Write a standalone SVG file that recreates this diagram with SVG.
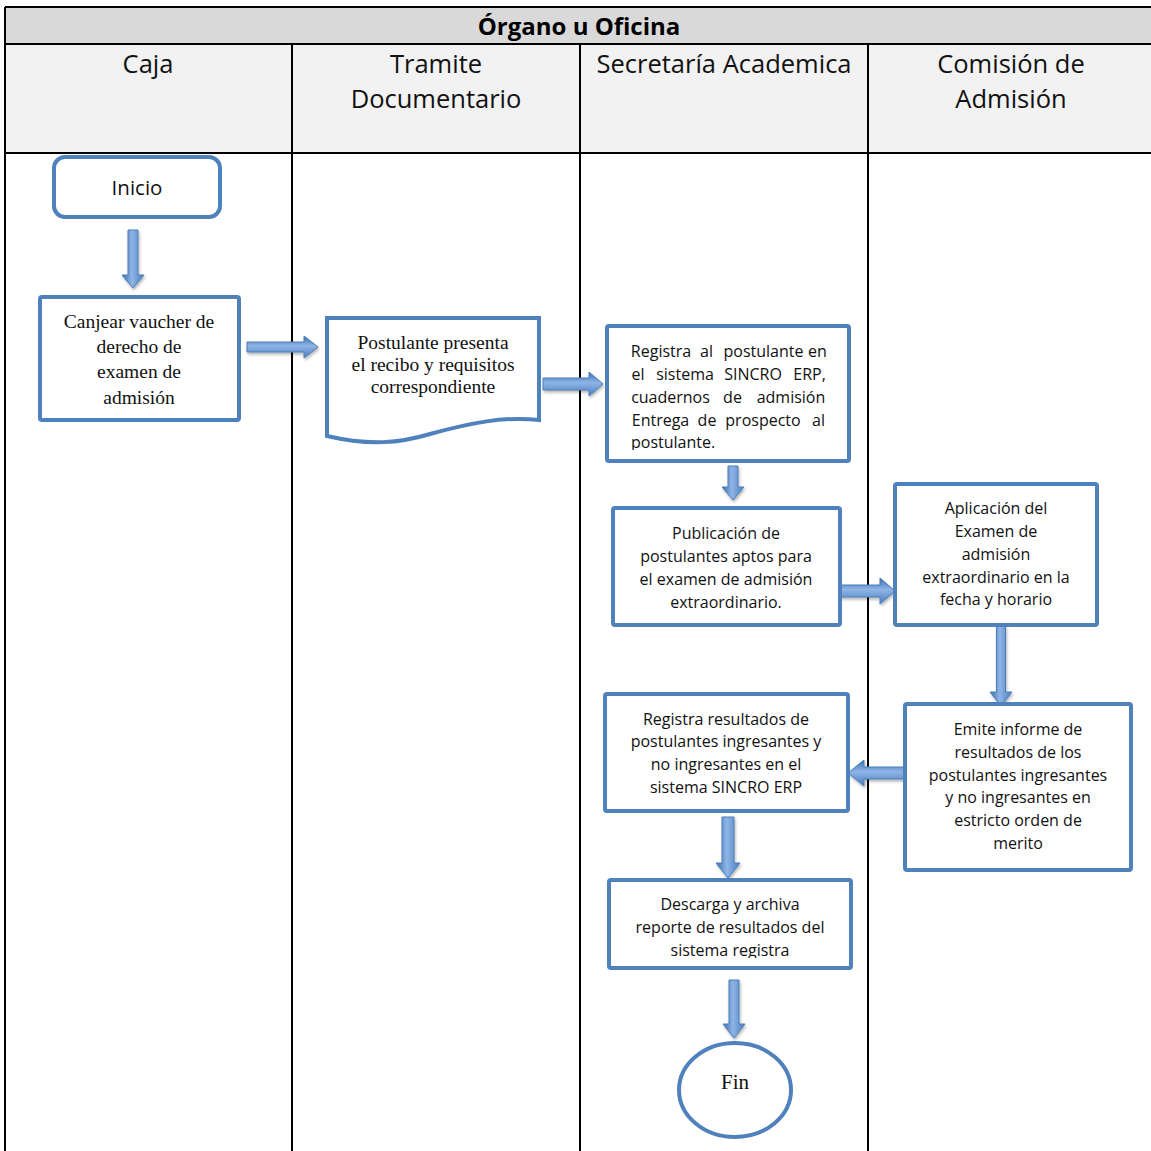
<svg xmlns="http://www.w3.org/2000/svg" width="1151" height="1151" viewBox="0 0 1151 1151">
<defs>
<style>
.grid{stroke:#000;stroke-width:2;fill:none}
.hdr{font-family:"Open Sans","Liberation Sans",sans-serif;font-size:25.5px;fill:#111;text-anchor:middle}
.ttl{font-family:"Open Sans","Liberation Sans",sans-serif;font-size:24px;font-weight:bold;fill:#000;text-anchor:middle}
.box{fill:#fff;stroke:#4f81bd;stroke-width:4}
.sans{font-family:"Open Sans","Liberation Sans",sans-serif;font-size:16px;fill:#111;text-anchor:middle}
.serif{font-family:"Liberation Serif","DejaVu Serif",serif;font-size:19.5px;fill:#111;text-anchor:middle}
.av{fill:url(#gv);stroke:#4a7ebb;stroke-width:1;filter:url(#sh)}
.ah{fill:url(#gh);stroke:#4a7ebb;stroke-width:1;filter:url(#sh)}
</style>
<linearGradient id="gv" x1="0" y1="0" x2="1" y2="0">
<stop offset="0" stop-color="#3a6eae"/>
<stop offset="0.45" stop-color="#8fb5e6"/>
<stop offset="1" stop-color="#4a7dbd"/>
</linearGradient>
<linearGradient id="gh" x1="0" y1="0" x2="0" y2="1">
<stop offset="0" stop-color="#3a6eae"/>
<stop offset="0.45" stop-color="#8fb5e6"/>
<stop offset="1" stop-color="#4a7dbd"/>
</linearGradient>
<filter id="sh" x="-30%" y="-30%" width="160%" height="160%">
<feDropShadow dx="1" dy="2" stdDeviation="1.5" flood-color="#000" flood-opacity="0.3"/>
</filter>
<clipPath id="clipReg"><rect x="610" y="329" width="236" height="121"/></clipPath>
<clipPath id="clipDes"><rect x="612" y="883" width="236" height="75"/></clipPath>
</defs>

<g id="table">
<rect x="5" y="7" width="1148" height="37" fill="#d9d9d9"/>
<rect x="5" y="44" width="1148" height="109" fill="#f2f2f2"/>
<path class="grid" d="M5,7 H1153 M5,44 H1153 M5,153 H1153 M5,7 V1151 M292,44 V1151 M580,44 V1151 M868,44 V1151"/>
<text class="ttl" x="579" y="35">Órgano u Oficina</text>
<text class="hdr" x="148" y="73">Caja</text>
<text class="hdr" x="436" y="73">Tramite</text>
<text class="hdr" x="436" y="108">Documentario</text>
<text class="hdr" x="724" y="73">Secretaría Academica</text>
<text class="hdr" x="1011" y="73">Comisión de</text>
<text class="hdr" x="1011" y="108">Admisión</text>
</g>

<g id="connectors">
<path class="av" d="M128,230 H138 V275 H144 L133,288 L122,275 H128 Z"/>
<path class="ah" d="M247,342 H304 V336 L318,347 L304,358 V352 H247 Z"/>
<path class="ah" d="M543,378 H589 V372 L603,384 L589,396 V390 H543 Z"/>
<path class="av" d="M728,466 H738 V487 H744 L733,500 L722,487 H728 Z"/>
<path class="ah" d="M840,585 H880 V578 L895,591 L880,604 V597 H840 Z"/>
<path class="av" d="M996.5,626 H1005.5 V692 H1012 L1001,706 L990,692 H996.5 Z"/>
<path class="ah" d="M905,767 H864 V760 L848,773 L864,786 V779 H905 Z"/>
<path class="av" d="M722,817 H734 V863 H740 L728,878 L716,863 H722 Z"/>
<path class="av" d="M729,980 H739 V1024 H745 L734,1038 L723,1024 H729 Z"/>
</g>

<g id="inicio">
<rect class="box" x="54" y="157" width="166" height="60" rx="11"/>
<text class="sans" x="137" y="195" style="font-size:20.5px">Inicio</text>
</g>

<g id="canjear">
<rect class="box" x="40" y="297" width="199" height="123" rx="2"/>
<text class="serif" x="139"><tspan x="139" y="328">Canjear vaucher de</tspan><tspan x="139" y="353">derecho de</tspan><tspan x="139" y="378">examen de</tspan><tspan x="139" y="404">admisión</tspan></text>
</g>

<g id="postulante">
<path class="box" d="M327,318 H539 V420 C505,416 470,423 430,434 C400,443 370,446 327,436 Z"/>
<text class="serif" x="433" style="font-size:19.5px"><tspan x="433" y="349">Postulante presenta</tspan><tspan x="433" y="371">el recibo y requisitos</tspan><tspan x="433" y="393">correspondiente</tspan></text>
</g>

<g id="registra">
<rect class="box" x="607" y="326" width="242" height="135" rx="2"/>
<g clip-path="url(#clipReg)">
<text class="sans"><tspan x="661" y="357">Registra</tspan><tspan x="706.5" y="357">al</tspan><tspan x="763.5" y="357">postulante</tspan><tspan x="817.5" y="357">en</tspan></text>
<text class="sans"><tspan x="638" y="380">el</tspan><tspan x="685" y="380">sistema</tspan><tspan x="753" y="380">SINCRO</tspan><tspan x="809.5" y="380">ERP,</tspan></text>
<text class="sans"><tspan x="670.5" y="403">cuadernos</tspan><tspan x="732.5" y="403">de</tspan><tspan x="791" y="403">admisión</tspan></text>
<text class="sans"><tspan x="660.5" y="426">Entrega</tspan><tspan x="707" y="426">de</tspan><tspan x="763" y="426">prospecto</tspan><tspan x="818.5" y="426">al</tspan></text>
<text class="sans" x="631" y="448" style="text-anchor:start">postulante.</text>
</g>
</g>

<g id="publicacion">
<rect class="box" x="613" y="508" width="227" height="117" rx="2"/>
<text class="sans"><tspan x="726" y="539">Publicación de</tspan><tspan x="726" y="562">postulantes aptos para</tspan><tspan x="726" y="585">el examen de admisión</tspan><tspan x="726" y="608">extraordinario.</tspan></text>
</g>

<g id="aplicacion">
<rect class="box" x="895" y="484" width="202" height="141" rx="2"/>
<text class="sans"><tspan x="996" y="514">Aplicación del</tspan><tspan x="996" y="537">Examen de</tspan><tspan x="996" y="560">admisión</tspan><tspan x="996" y="583">extraordinario en la</tspan><tspan x="996" y="605">fecha y horario</tspan></text>
</g>

<g id="emite">
<rect class="box" x="905" y="704" width="226" height="166" rx="2"/>
<text class="sans"><tspan x="1018" y="735">Emite informe de</tspan><tspan x="1018" y="758">resultados de los</tspan><tspan x="1018" y="781">postulantes ingresantes</tspan><tspan x="1018" y="803">y no ingresantes en</tspan><tspan x="1018" y="826">estricto orden de</tspan><tspan x="1018" y="849">merito</tspan></text>
</g>

<g id="registra-resultados">
<rect class="box" x="605" y="694" width="243" height="117" rx="2"/>
<text class="sans"><tspan x="726" y="725">Registra resultados de</tspan><tspan x="726" y="747">postulantes ingresantes y</tspan><tspan x="726" y="770">no ingresantes en el</tspan><tspan x="726" y="793">sistema SINCRO ERP</tspan></text>
</g>

<g id="descarga">
<rect class="box" x="609" y="880" width="242" height="88" rx="2"/>
<g clip-path="url(#clipDes)">
<text class="sans"><tspan x="730" y="910">Descarga y archiva</tspan><tspan x="730" y="933">reporte de resultados del</tspan><tspan x="730" y="956">sistema registra</tspan></text>
</g>
</g>

<g id="fin">
<ellipse class="box" cx="735" cy="1090" rx="56" ry="47"/>
<text class="serif" x="735" y="1089" style="font-size:21px">Fin</text>
</g>
</svg>
